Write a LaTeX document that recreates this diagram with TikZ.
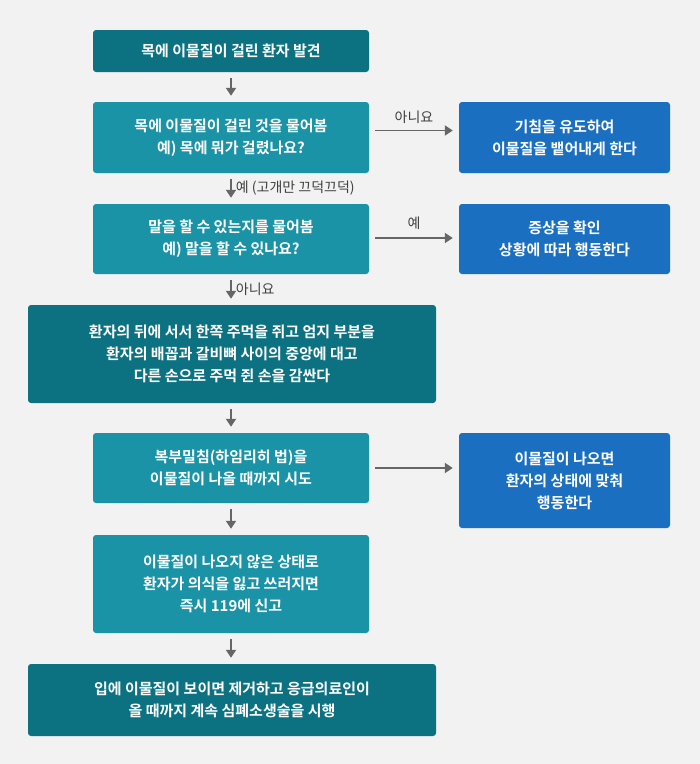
\documentclass[tikz,border=0pt]{standalone}
\usepackage{fontspec}
\setmainfont{Noto Sans CJK KR}
\newfontfamily\kb{Noto Sans CJK KR Bold}
\usetikzlibrary{arrows.meta}
\definecolor{dk}{HTML}{0C7282}
\definecolor{lt}{HTML}{1A93A6}
\definecolor{bl}{HTML}{1B6FC0}
\definecolor{bg}{HTML}{F2F2F2}
\definecolor{ar}{HTML}{666666}
\begin{document}
\begin{tikzpicture}[x=1pt,y=-1pt,
 bx/.style={rounded corners=3pt,text=white,align=center,font=\kb\fontsize{15}{22}\selectfont,inner sep=0pt},
 ln/.style={draw=ar,line width=1.8pt,-{Triangle[length=8pt,width=10pt]},shorten <=6pt,shorten >=6pt},
 lb/.style={font=\fontsize{14}{16}\selectfont,text=black!75,inner sep=1pt}]
\fill[bg] (0,0) rectangle (700,764);
\useasboundingbox (0,0) rectangle (700,764);
\node[bx,fill=dk,minimum width=276pt,minimum height=42pt] (a) at (231,51) {목에 이물질이 걸린 환자 발견};
\node[bx,fill=lt,minimum width=276pt,minimum height=71pt] (b) at (231,137.5) {목에 이물질이 걸린 것을 물어봄\\예) 목에 뭐가 걸렸나요?};
\node[bx,fill=bl,minimum width=211pt,minimum height=71pt] (r1) at (564.5,137.5) {기침을 유도하여\\이물질을 뱉어내게 한다};
\node[bx,fill=lt,minimum width=276pt,minimum height=70pt] (c) at (231,239) {말을 할 수 있는지를 물어봄\\예) 말을 할 수 있나요?};
\node[bx,fill=bl,minimum width=211pt,minimum height=70pt] (r2) at (564.5,239) {증상을 확인\\상황에 따라 행동한다};
\node[bx,fill=dk,minimum width=408pt,minimum height=98pt] (d) at (232,354) {환자의 뒤에 서서 한쪽 주먹을 쥐고 엄지 부분을\\환자의 배꼽과 갈비뼈 사이의 중앙에 대고\\다른 손으로 주먹 쥔 손을 감싼다};
\node[bx,fill=lt,minimum width=276pt,minimum height=70pt] (e) at (231,468) {복부밀침(하임리히 법)을\\이물질이 나올 때까지 시도};
\node[bx,fill=bl,minimum width=211pt,minimum height=95pt] (r3) at (564.5,480.5) {이물질이 나오면\\환자의 상태에 맞춰\\행동한다};
\node[bx,fill=lt,minimum width=276pt,minimum height=98pt] (f) at (231,584) {이물질이 나오지 않은 상태로\\환자가 의식을 잃고 쓰러지면\\즉시 119에 신고};
\node[bx,fill=dk,minimum width=408pt,minimum height=72pt] (g) at (232,700) {입에 이물질이 보이면 제거하고 응급의료인이\\올 때까지 계속 심폐소생술을 시행};
\draw[ln] (a) -- (b);
\draw[ln] (b) -- node[lb,right=3pt]{예 (고개만 끄덕끄덕)} (c);
\draw[ln] (c) -- node[lb,right=3pt]{아니요} (c.south |- d.north);
\draw[ln] (e.north |- d.south) -- (e);
\draw[ln] (e) -- (f);
\draw[ln] (f) -- (f.south |- g.north);
\draw[ln] ([yshift=7pt]b.east) -- node[lb,above=5pt]{아니요} ([yshift=7pt]b.east -| r1.west);
\draw[ln] ([yshift=1pt]c.east) -- node[lb,above=7pt]{예} ([yshift=1pt]c.east -| r2.west);
\draw[ln] (e.east) -- (e.east -| r3.west);
\end{tikzpicture}
\end{document}
